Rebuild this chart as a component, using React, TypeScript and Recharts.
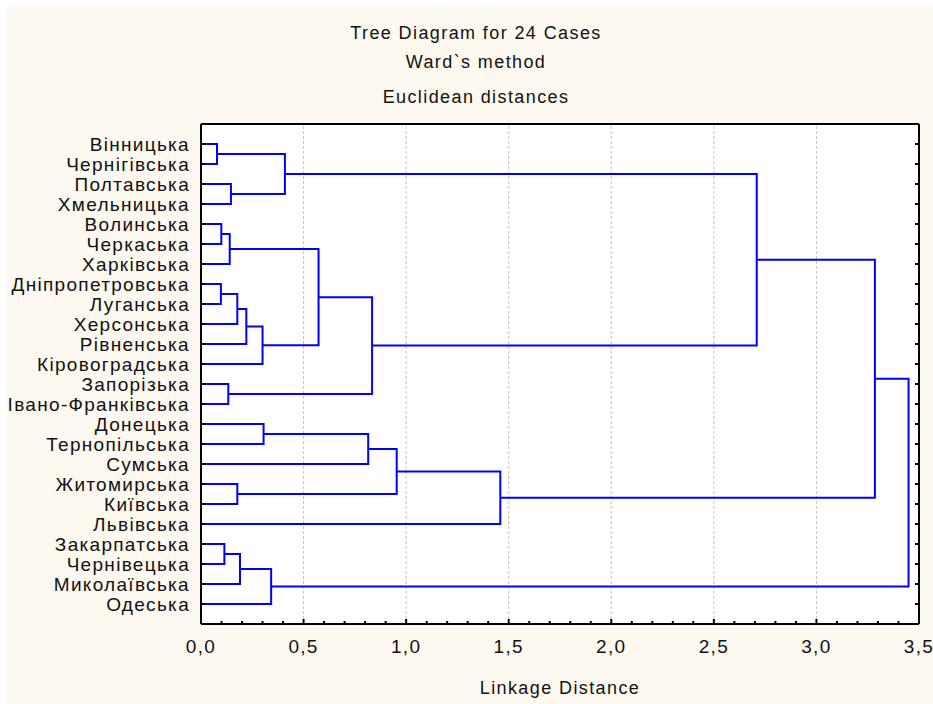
import React from 'react';
import { ScatterChart, Scatter, XAxis, YAxis, ReferenceLine, CartesianGrid } from 'recharts';

// Leaf (case) names, top to bottom
const leafNames = [
  'Вінницька', 'Чернігівська', 'Полтавська', 'Хмельницька', 'Волинська', 'Черкаська',
  'Харківська', 'Дніпропетровська', 'Луганська', 'Херсонська', 'Рівненська', 'Кіровоградська',
  'Запорізька', 'Івано-Франківська', 'Донецька', 'Тернопільська', 'Сумська', 'Житомирська',
  'Київська', 'Львівська', 'Закарпатська', 'Чернівецька', 'Миколаївська', 'Одеська',
];

// Linkage: merge k creates cluster id 24 + k from mergeLeft[k] and mergeRight[k]
const mergeLeft = [0, 2, 24, 4, 27, 7, 29, 30, 31, 28, 12, 33, 14, 36, 17, 37, 39, 20, 41, 42, 26, 44, 45];
const mergeRight = [1, 3, 25, 5, 6, 8, 9, 10, 11, 32, 13, 34, 15, 16, 18, 38, 19, 21, 22, 23, 35, 40, 43];
const mergeHeight = [
  0.078, 0.146, 0.409, 0.099, 0.14, 0.097, 0.177, 0.221, 0.30, 0.573, 0.133, 0.834,
  0.305, 0.815, 0.177, 0.954, 1.459, 0.114, 0.19, 0.342, 2.709, 3.285, 3.449,
];

const allXTicks = Array.from({ length: 36 }, (_, i) => i / 10);
const gridTicks = [0.5, 1.0, 1.5, 2.0, 2.5, 3.0];
const leafTicks = leafNames.map((_, i) => i);

const titleLines = ['Tree Diagram for 24 Cases', 'Ward`s method', 'Euclidean distances'];
const xAxisTitle = 'Linkage Distance';

// Build node positions and U-shaped link paths
type Pt = { x: number; y: number };
const nodes: Pt[] = leafNames.map((_, i) => ({ x: 0, y: i }));
const links: Pt[][] = [];
mergeLeft.forEach((l, k) => {
  const r = mergeRight[k];
  const h = mergeHeight[k];
  const L = nodes[l];
  const R = nodes[r];
  links.push([
    { x: L.x, y: L.y },
    { x: h, y: L.y },
    { x: h, y: R.y },
    { x: R.x, y: R.y },
  ]);
  nodes.push({ x: h, y: (L.y + R.y) / 2 });
});

const FONT = "'Liberation Sans', Arial, sans-serif";
const textStyle: React.CSSProperties = {
  fontFamily: FONT,
  fontSize: 19,
  letterSpacing: 1.3,
  fill: '#111',
};

const isMajor = (v: number) => Math.abs(v * 2 - Math.round(v * 2)) < 1e-6;

const LeftTick = (props: any) => {
  const { x, y, payload } = props;
  const name = leafNames[Math.round(payload.value)];
  return (
    <g>
      <line x1={x} x2={x + 4} y1={y} y2={y} stroke="#000" strokeWidth={2} />
      <text x={x - 11} y={y + 6.5} textAnchor="end" style={textStyle}>
        {name}
      </text>
    </g>
  );
};

const RightTick = (props: any) => {
  const { x, y } = props;
  return <line x1={x - 4} x2={x} y1={y} y2={y} stroke="#000" strokeWidth={2} />;
};

const BottomTick = (props: any) => {
  const { x, y, payload } = props;
  const v = payload.value as number;
  const major = isMajor(v);
  return (
    <g>
      <line x1={x} x2={x} y1={y} y2={y - (major ? 5 : 3)} stroke="#000" strokeWidth={2} />
      {major && (
        <text x={x} y={y + 29} textAnchor="middle" style={textStyle}>
          {v.toFixed(1).replace('.', ',')}
        </text>
      )}
    </g>
  );
};

const TopTick = (props: any) => {
  const { x, y, payload } = props;
  const major = isMajor(payload.value as number);
  return <line x1={x} x2={x} y1={y} y2={y + (major ? 5 : 3)} stroke="#000" strokeWidth={2} />;
};

const divText: React.CSSProperties = {
  position: 'absolute',
  fontFamily: FONT,
  fontSize: 18,
  letterSpacing: 1.4,
  lineHeight: '20px',
  color: '#111',
  whiteSpace: 'nowrap',
  textAlign: 'center',
};

export default function App() {
  return (
    <div
      style={{
        position: 'fixed',
        left: 0,
        top: 0,
        width: 933,
        height: 704,
        background: '#ffffff',
        overflow: 'hidden',
      }}
    >
      <div
        style={{
          position: 'absolute',
          left: 7,
          top: 7,
          width: 926,
          height: 697,
          background: '#FDF9F0',
        }}
      />
      <div style={{ position: 'absolute', left: 0, top: 0 }}>
        <ScatterChart width={933} height={704} margin={{ top: 0, right: 0, bottom: 0, left: 0 }}>
          <CartesianGrid horizontal={false} vertical={false} fill="#ffffff" stroke="none" />
          <XAxis
            xAxisId={0}
            type="number"
            dataKey="x"
            domain={[0, 3.5]}
            ticks={allXTicks}
            interval={0}
            allowDataOverflow
            height={80}
            tickSize={0}
            tickMargin={0}
            tickLine={false}
            axisLine={{ stroke: '#000', strokeWidth: 2 }}
            tick={<BottomTick />}
          />
          <XAxis
            xAxisId="top"
            orientation="top"
            type="number"
            domain={[0, 3.5]}
            ticks={allXTicks}
            interval={0}
            allowDataOverflow
            height={124}
            tickSize={0}
            tickMargin={0}
            tickLine={false}
            axisLine={{ stroke: '#000', strokeWidth: 2 }}
            tick={<TopTick />}
          />
          <YAxis
            yAxisId={0}
            type="number"
            dataKey="y"
            domain={[-1, 24]}
            reversed
            ticks={leafTicks}
            interval={0}
            allowDataOverflow
            width={201}
            tickSize={0}
            tickMargin={0}
            tickLine={false}
            axisLine={{ stroke: '#000', strokeWidth: 2 }}
            tick={<LeftTick />}
          />
          <YAxis
            yAxisId="right"
            orientation="right"
            type="number"
            domain={[-1, 24]}
            reversed
            ticks={leafTicks}
            interval={0}
            allowDataOverflow
            width={14}
            tickSize={0}
            tickMargin={0}
            tickLine={false}
            axisLine={{ stroke: '#000', strokeWidth: 2 }}
            tick={<RightTick />}
          />
          {gridTicks.map((g) => (
            <ReferenceLine
              key={g}
              x={g}
              xAxisId={0}
              yAxisId={0}
              stroke="#c4c4c4"
              strokeWidth={1}
              strokeDasharray="3 2"
            />
          ))}
          {links.map((pts, i) => (
            <Scatter
              key={i}
              data={pts}
              xAxisId={0}
              yAxisId={0}
              fill="#0000FF"
              line={{ stroke: '#0000FF', strokeWidth: 2 }}
              lineType="joint"
              shape={() => <g />}
              isAnimationActive={false}
            />
          ))}
        </ScatterChart>
      </div>
      {titleLines.map((t, i) => (
        <div key={t} style={{ ...divText, left: 276, width: 400, top: [23, 52, 87][i] }}>
          {t}
        </div>
      ))}
      <div style={{ ...divText, left: 360, width: 400, top: 678 }}>{xAxisTitle}</div>
    </div>
  );
}
